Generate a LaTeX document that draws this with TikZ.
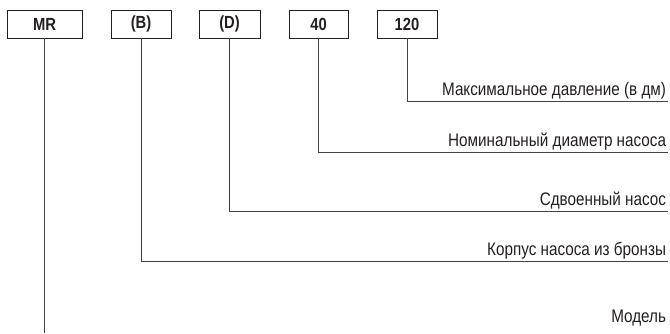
\documentclass[tikz,border=0pt]{standalone}
\usepackage{fontspec}
\setmainfont[FakeStretch=0.84]{Liberation Sans}
\usetikzlibrary{positioning}
\definecolor{cInk}{HTML}{231F20}
\tikzset{
  every node/.style={font=\fontsize{15.5}{18}\selectfont, text=cInk},
  codebox/.style={draw=cInk, line width=0.6pt, minimum height=0.84cm, inner sep=0pt, font=\fontsize{15}{18}\selectfont\bfseries},
  lead/.style={draw=cInk!85, line width=0.6pt},
  desc/.style={anchor=south east, inner sep=1.5pt},
}
\begin{document}
\begin{tikzpicture}[x=0.03cm,y=-0.03cm]
\useasboundingbox (0,0) rectangle (670,333);
% code boxes
\node[codebox, minimum width=2.25cm] (mr) at (44.5,24) {MR};
\node[codebox, minimum width=1.8cm] (bz) at (141,24) {(B)};
\node[codebox, minimum width=1.83cm] (dbl) at (229.5,24) {(D)};
\node[codebox, minimum width=1.77cm] (dn) at (318.5,24) {40};
\node[codebox, minimum width=1.8cm] (pr) at (407,24) {120};
% descriptions
\node[desc] (tpr) at (668,101) {Максимальное давление (в дм)};
\node[desc] (tdn) at (668,152) {Номинальный диаметр насоса};
\node[desc] (tdbl) at (668,211) {Сдвоенный насос};
\node[desc] (tbz) at (668,261) {Корпус насоса из бронзы};
\node[desc] (tmr) at (668,328) {Модель};
% leaders
\coordinate (end) at (mr.south |- 0,333);
\draw[lead] (pr.south) |- (tpr.south east);
\draw[lead] (dn.south) |- (tdn.south east);
\draw[lead] (dbl.south) |- (tdbl.south east);
\draw[lead] (bz.south) |- (tbz.south east);
\draw[lead] (mr.south) -- (end);
\end{tikzpicture}
\end{document}
